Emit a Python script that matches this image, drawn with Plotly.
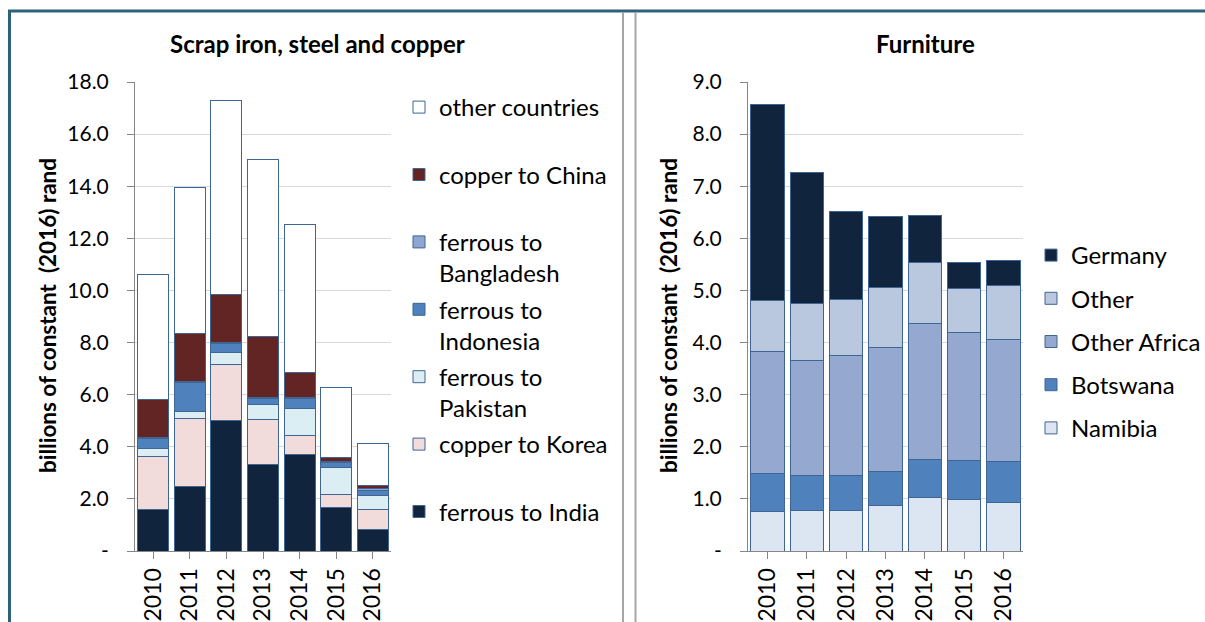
import plotly.graph_objects as go

years = ["2010", "2011", "2012", "2013", "2014", "2015", "2016"]

# Left panel: scrap iron, steel and copper (billions of constant 2016 rand)
ferrous_india = [1.60, 2.48, 5.01, 3.32, 3.70, 1.67, 0.82]
copper_korea = [2.04, 2.60, 2.15, 1.73, 0.73, 0.51, 0.77]
ferrous_pakistan = [0.30, 0.28, 0.46, 0.56, 1.04, 1.01, 0.55]
ferrous_indonesia = [0.39, 1.11, 0.35, 0.26, 0.39, 0.19, 0.19]
ferrous_bangladesh = [0.02, 0.02, 0.02, 0.02, 0.02, 0.05, 0.07]
copper_china = [1.46, 1.86, 1.87, 2.36, 0.98, 0.14, 0.11]
other_countries = [4.82, 5.61, 7.44, 6.77, 5.66, 2.70, 1.61]

# Right panel: furniture
namibia = [0.75, 0.78, 0.77, 0.87, 1.02, 0.98, 0.93]
botswana = [0.73, 0.67, 0.67, 0.66, 0.73, 0.76, 0.78]
other_africa = [2.34, 2.20, 2.32, 2.38, 2.62, 2.45, 2.34]
other_furn = [0.98, 1.09, 1.07, 1.14, 1.17, 0.84, 1.05]
germany = [3.77, 2.52, 1.68, 1.36, 0.89, 0.51, 0.48]

left_ticks = [0, 2, 4, 6, 8, 10, 12, 14, 16, 18]
left_ticktext = ["-", "2.0", "4.0", "6.0", "8.0", "10.0", "12.0", "14.0", "16.0", "18.0"]
right_ticks = [0, 1, 2, 3, 4, 5, 6, 7, 8, 9]
right_ticktext = ["-", "1.0", "2.0", "3.0", "4.0", "5.0", "6.0", "7.0", "8.0", "9.0"]

W, H = 1205, 622
FONT = "Lato"
OUTLINE = "#3F6594"
LEG_SIZE = 24

left_series = [
    ("ferrous to India", ferrous_india, "#10243E"),
    ("copper to Korea", copper_korea, "#F2DCDB"),
    ("ferrous to<br>Pakistan", ferrous_pakistan, "#DAEEF3"),
    ("ferrous to<br>Indonesia", ferrous_indonesia, "#4F81BD"),
    ("ferrous to<br>Bangladesh", ferrous_bangladesh, "#8FA7D0"),
    ("copper to China", copper_china, "#632523"),
    ("other countries", other_countries, "#FFFFFF"),
]
right_series = [
    ("Namibia", namibia, "#DCE6F2"),
    ("Botswana", botswana, "#4F81BD"),
    ("Other Africa", other_africa, "#95A9D0"),
    ("Other", other_furn, "#B9C7DF"),
    ("Germany", germany, "#10243E"),
]

fig = go.Figure()
for i, (name, vals, col) in enumerate(left_series):
    label = name if "<br>" in name else name + "<br>\u00a0"
    fig.add_trace(go.Bar(
        x=years, y=vals, name=label, marker=dict(color=col, line=dict(color=OUTLINE, width=1)),
        xaxis="x", yaxis="y", legend="legend", legendgroup="L%d" % i, legendrank=100 - i,
    ))
for i, (name, vals, col) in enumerate(right_series):
    fig.add_trace(go.Bar(
        x=years, y=vals, name=name, marker=dict(color=col, line=dict(color=OUTLINE, width=1)),
        xaxis="x2", yaxis="y2", legend="legend2", legendgroup="R%d" % i, legendrank=100 - i,
    ))

def px_x(p):
    return p / W

def px_y(p):
    return 1 - p / H

ydom = [px_y(551), px_y(82)]
xaxis_common = dict(
    showline=True, linecolor="#868686", linewidth=1, automargin=False,
    ticks="outside", ticklen=7, tickcolor="#868686",
    tickmode="array", tickvals=years, ticktext=years,
    tickfont=dict(family=FONT, size=23, color="#000000"),
)
yaxis_common = dict(
    showline=True, linecolor="#868686", linewidth=1, automargin=False,
    ticks="outside", ticklen=7, tickcolor="#868686", ticklabelstandoff=14,
    tickfont=dict(family=FONT, size=21, color="#000000"),
)

fig.update_layout(
    template="none",
    width=W, height=H,
    margin=dict(l=0, r=0, t=0, b=0, autoexpand=False),
    paper_bgcolor="#FFFFFF", plot_bgcolor="#FFFFFF",
    barmode="stack", bargap=0.15,
    font=dict(family=FONT, color="#000000"),
    xaxis=dict(domain=[px_x(135), px_x(391)], anchor="y", tickangle=-90,
               tickson="boundaries", showgrid=False, **xaxis_common),
    yaxis=dict(domain=ydom, anchor="x", range=[0, 18], tickvals=left_ticks, ticktext=left_ticktext,
               showgrid=True, gridcolor="#D9D9D9", gridwidth=1, zeroline=False, **yaxis_common),
    xaxis2=dict(domain=[px_x(748), px_x(1023)], anchor="y2", tickangle=-90,
                tickson="boundaries", showgrid=False, **xaxis_common),
    yaxis2=dict(domain=ydom, anchor="x2", range=[0, 9], tickvals=right_ticks, ticktext=right_ticktext,
                showgrid=True, gridcolor="#D9D9D9", gridwidth=1, zeroline=False, **yaxis_common),
    legend=dict(x=px_x(399), y=px_y(85), xanchor="left", yanchor="top",
                traceorder="grouped", tracegroupgap=2, valign="top",
                font=dict(family=FONT, size=LEG_SIZE, color="#000000"), bgcolor="rgba(0,0,0,0)"),
    legend2=dict(x=px_x(1031), y=px_y(233), xanchor="left", yanchor="top",
                 traceorder="grouped", tracegroupgap=9, valign="middle",
                 font=dict(family=FONT, size=LEG_SIZE, color="#000000"), bgcolor="rgba(0,0,0,0)"),
    showlegend=True,
)

annotations = [
    dict(text="<b>Scrap iron, steel and copper</b>", x=px_x(317), y=px_y(44), xref="paper", yref="paper",
         showarrow=False, font=dict(family=FONT, size=24), xanchor="center", yanchor="middle"),
    dict(text="<b>Furniture</b>", x=px_x(925), y=px_y(44), xref="paper", yref="paper",
         showarrow=False, font=dict(family=FONT, size=24), xanchor="center", yanchor="middle"),
    dict(text="<b>billions of constant  (2016) rand</b>", x=px_x(47), y=px_y(316), xref="paper", yref="paper",
         showarrow=False, textangle=-90, font=dict(family=FONT, size=22.5), xanchor="center", yanchor="middle"),
    dict(text="<b>billions of constant  (2016) rand</b>", x=px_x(668), y=px_y(316), xref="paper", yref="paper",
         showarrow=False, textangle=-90, font=dict(family=FONT, size=22.5), xanchor="center", yanchor="middle"),
]
fig.update_layout(annotations=annotations)

shapes = [
    dict(type="line", xref="paper", yref="paper", x0=px_x(8), x1=1, y0=px_y(11), y1=px_y(11),
         line=dict(color="#2E6275", width=3)),
    dict(type="line", xref="paper", yref="paper", x0=px_x(9.5), x1=px_x(9.5), y0=px_y(10), y1=0,
         line=dict(color="#2E6275", width=3)),
    dict(type="line", xref="paper", yref="paper", x0=px_x(623), x1=px_x(623), y0=px_y(12), y1=0,
         line=dict(color="#A6A6A6", width=2)),
    dict(type="line", xref="paper", yref="paper", x0=px_x(635.5), x1=px_x(635.5), y0=px_y(12), y1=0,
         line=dict(color="#A6A6A6", width=2)),
]
fig.update_layout(shapes=shapes)

fig.write_html("out.html", config={"displayModeBar": False},
               post_script="document.body.style.margin='0';document.body.style.overflow='hidden';")
